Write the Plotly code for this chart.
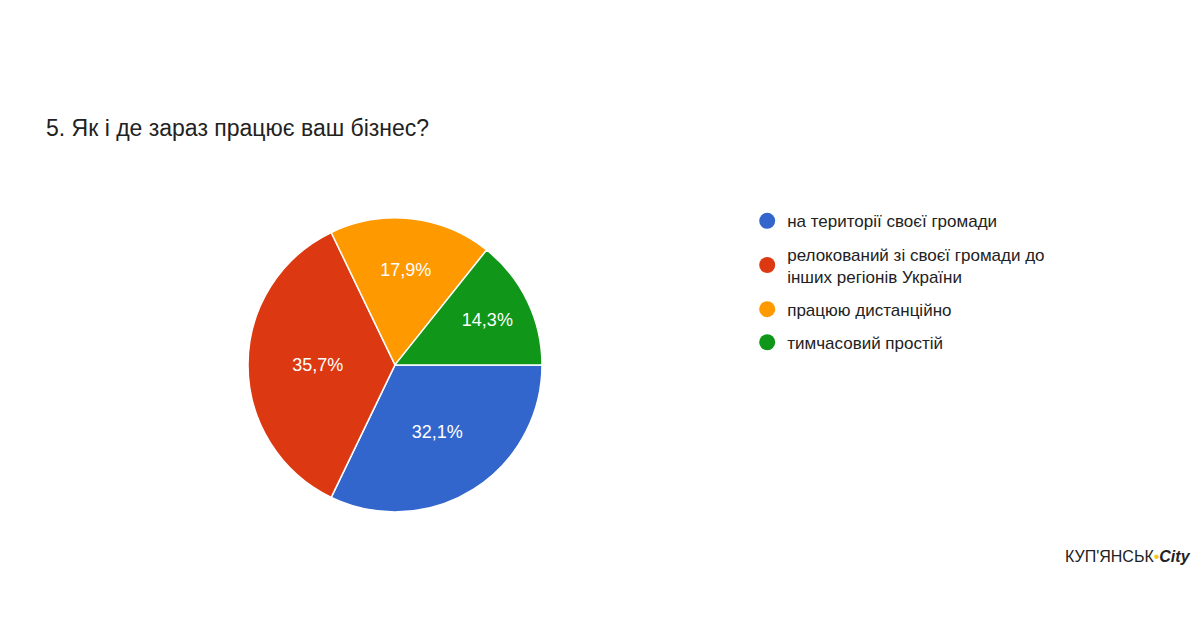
import plotly.graph_objects as go

labels = ["на території своєї громади",
          "релокований зі своєї громади до<br>інших регіонів України",
          "працюю дистанційно",
          "тимчасовий простій"]
counts = [9, 10, 5, 4]
pct_text = ["32,1%", "35,7%", "17,9%", "14,3%"]
colors = ["#3366cc", "#dc3912", "#ff9900", "#109618"]

fig = go.Figure()
fig.add_trace(go.Pie(
    labels=labels, values=counts, text=pct_text, textinfo="text",
    sort=False, direction="clockwise", rotation=90,
    marker=dict(colors=colors, line=dict(color="white", width=1.5)),
    textfont=dict(color="white", size=18, family="Arial"),
    insidetextorientation="horizontal",
    domain=dict(x=[240/1200, 534/1200], y=[0.200, 0.667]),
    showlegend=False, hoverinfo="label+percent",
))
for i, (lab, c) in enumerate(zip(labels, colors)):
    fig.add_trace(go.Scatter(x=[None], y=[None], mode="markers", name=lab,
                             legendgroup=f"g{i}",
                             marker=dict(symbol="circle", size=18, color=c)))

fig.update_layout(
    width=1200, height=630, margin=dict(l=0, r=0, t=0, b=0),
    paper_bgcolor="white", plot_bgcolor="white",
    font=dict(family="Arial, Liberation Sans", color="#222"),
    xaxis=dict(visible=False), yaxis=dict(visible=False),
    legend=dict(x=0.616, y=0.69, xanchor="left", yanchor="top",
                font=dict(size=17, color="#222"), tracegroupgap=8,
                itemsizing="trace"),
    annotations=[
        dict(text="5. Як і де зараз працює ваш бізнес?", x=36/1200, y=1-120/630,
             xref="paper", yref="paper", xanchor="left", yanchor="middle",
             showarrow=False, font=dict(size=23, color="#222")),
        dict(text="КУП'ЯНСЬК<span style='color:#f5c518'>•</span><i><b>City</b></i>",
             x=1185/1200, y=1-548/630, xref="paper", yref="paper",
             xanchor="right", yanchor="middle", showarrow=False,
             font=dict(size=16, color="#222")),
    ],
)
fig.write_html("out.html")
